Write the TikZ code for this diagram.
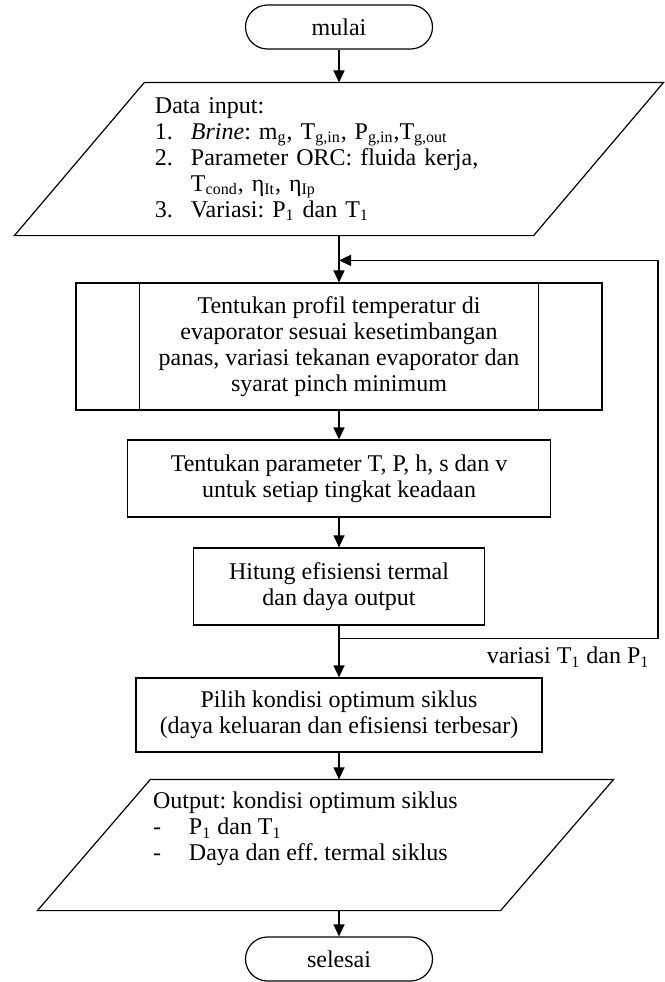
\documentclass[tikz,border=0pt]{standalone}
\usepackage{fontspec}
\setmainfont{Liberation Serif}
\frenchspacing
\usetikzlibrary{positioning,arrows.meta}

\begin{document}
\begin{tikzpicture}[node distance=60pt,on grid,line width=0.6pt,
    >={Triangle[length=6pt,width=5.5pt]},
    every node/.style={font=\fontsize{12}{13}\selectfont},
    term/.style={draw,rounded corners=11pt,minimum width=93.5pt,minimum height=22pt,inner sep=0pt},
    proc/.style={draw,align=center,inner sep=0pt},
    io/.style={inner sep=0pt,align=left}]
  \useasboundingbox (0,0) rectangle (332.5pt,-491pt);
	   \node[term] (start) at (169.5pt,-13.5pt) {mulai};
	   \node[io,text width=184pt,minimum width=324pt,minimum height=76pt] (in) [below=66pt of start]
	     {Data input:\\
	      \makebox[18pt][l]{1.}\textit{Brine}: m\textsubscript{g}, T\textsubscript{g,in}, P\textsubscript{g,in},T\textsubscript{g,out}\\
	      \makebox[18pt][l]{2.}Parameter ORC: fluida kerja,\\
	      \hspace*{18pt}T\textsubscript{cond}, η\textsubscript{It}, η\textsubscript{Ip}\\
	      \makebox[18pt][l]{3.}Variasi: P\textsubscript{1} dan T\textsubscript{1}};
	   \node[proc,minimum width=263pt,minimum height=63.5pt] (p_1) [below=93.75pt of in]
	     {Tentukan profil temperatur di\\evaporator sesuai kesetimbangan\\panas, variasi tekanan evaporator dan\\syarat pinch minimum};
	   \node[proc,minimum width=211.5pt,minimum height=38.5pt] (p_2) [below=66pt of p_1]
	     {Tentukan parameter T, P, h, s dan v\\untuk setiap tingkat keadaan};
	   \node[proc,minimum width=145.5pt,minimum height=38.5pt] (p_3) [below=54pt of p_2]
	     {Hitung efisiensi termal\\dan daya output};
	   \node[proc,minimum width=203pt,minimum height=37pt] (p_4) [below=64.25pt of p_3]
	     {Pilih kondisi optimum siklus\\(daya keluaran dan efisiensi terbesar)};
	   \node[io,minimum width=287.5pt,minimum height=65pt] (out) [below left=65pt and 6.75pt of p_4]
	     {\parbox[c][53pt][t]{172.5pt}{\raggedright Output: kondisi optimum siklus\\
	      \makebox[18pt][l]{-}P\textsubscript{1} dan T\textsubscript{1}\\
	      \makebox[18pt][l]{-}Daya dan eff. termal siklus}};
	   \node[term] (stop) [below=122pt of p_4] {selesai};
	   % outlines of the special shapes
	   \draw ([xshift=32pt]p_1.north west) -- ([xshift=32pt]p_1.south west)
	         ([xshift=-32pt]p_1.north east) -- ([xshift=-32pt]p_1.south east);
	   \draw ([xshift=65pt]in.north west) -- (in.north east) -- ([xshift=-65pt]in.south east) -- (in.south west) -- cycle;
	   \draw ([xshift=56.5pt]out.north west) -- (out.north east) -- ([xshift=-56.5pt]out.south east) -- (out.south west) -- cycle;
	   % flow
	   \draw[->] (start) -- (in);
	   \draw[->] (in) -- (p_1);
	   \draw[->] (p_1) -- (p_2);
	   \draw[->] (p_2) -- (p_3);
	   \draw[->] (p_3) -- (p_4);
	   \draw[->] (p_4) -- (p_4.south |- out.north);
	   \draw[->] (stop.north |- out.south) -- (stop);
	   % loop back
	   \coordinate[below=6.5pt of p_3.south] (split);
	   \coordinate[above=11pt of p_1.north] (merge);
	   \coordinate (turn) at (329pt,0);
	   \draw[->] (split) -- (split -| turn) -- (merge -| turn) -- (merge);
	   \node[anchor=north east,inner sep=4pt] (var) at (split -| turn) {variasi T\textsubscript{1} dan P\textsubscript{1}};
\end{tikzpicture}
\end{document}
